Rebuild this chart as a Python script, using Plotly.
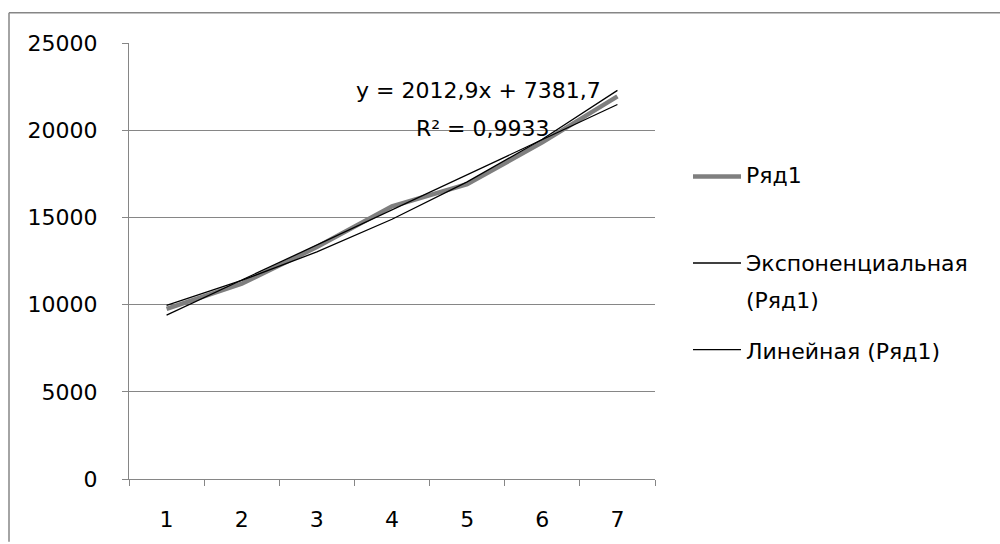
import numpy as np
import plotly.graph_objects as go

# Series data
categories = ["1", "2", "3", "4", "5", "6", "7"]
series_values = [9750, 11200, 13300, 15640, 16900, 19300, 21940]
series_name = "Ряд1"

# Linear trend coefficients shown in the equation label
lin_slope = 2012.9
lin_intercept = 7381.7
r_squared_text = "0,9933"

y_ticks = [0, 5000, 10000, 15000, 20000, 25000]
y_tick_text = ["0", "5000", "10000", "15000", "20000", "25000"]

FONT = "DejaVu Sans"
FS = 22
GRID = "#868686"

# Plot area in pixels
W, H = 1000, 544
L, R, T, B = 129, 345, 43, 63
PW, PH = W - L - R, H - T - B


def px(x):
    return (x - L) / PW


def py(y):
    return (H - B - y) / PH


xs = np.arange(1, len(series_values) + 1)
yv = np.array(series_values, dtype=float)

# Exponential trend (least squares on log values)
b, a = np.polyfit(xs, np.log(yv), 1)
exp_trend = np.exp(a + b * xs)
lin_trend = lin_intercept + lin_slope * xs

fig = go.Figure()
fig.add_trace(go.Scatter(x=categories, y=series_values, mode="lines",
                         line=dict(color="#7f7f7f", width=4.5),
                         name=series_name, showlegend=False))
fig.add_trace(go.Scatter(x=categories, y=exp_trend, mode="lines",
                         line=dict(color="black", width=1.3),
                         showlegend=False))
fig.add_trace(go.Scatter(x=categories, y=lin_trend, mode="lines",
                         line=dict(color="black", width=1.3),
                         showlegend=False))

frame = dict(color=GRID, width=1.5)
shapes = [
    # chart outer frame: top and left edges
    dict(type="line", xref="paper", yref="paper",
         x0=px(9), x1=px(1000), y0=py(12.5), y1=py(12.5), line=frame, layer="above"),
    dict(type="line", xref="paper", yref="paper",
         x0=px(9), x1=px(9), y0=py(12.5), y1=py(544), line=frame, layer="above"),
]

eq_font = dict(family=FONT, size=FS, color="black")
annotations = [
    dict(text=f"y = {str(lin_slope).replace('.', ',')}x + {str(lin_intercept).replace('.', ',')}",
         xref="paper", yref="paper", x=px(478), y=py(91), showarrow=False,
         xanchor="center", yanchor="middle", font=eq_font),
    dict(text=f"R² = {r_squared_text}",
         xref="paper", yref="paper", x=px(483), y=py(129), showarrow=False,
         xanchor="center", yanchor="middle", font=eq_font),
]

# Legend entries drawn at the right of the plot: (text lines, line y, text y's, style)
legend_items = [
    (["Ряд1"], 177, [176], dict(color="#7f7f7f", width=4.5)),
    (["Экспоненциальная", "(Ряд1)"], 264, [265, 302], dict(color="black", width=1.3)),
    (["Линейная (Ряд1)"], 351, [353], dict(color="black", width=1.3)),
]
for lines, line_y, text_ys, ln in legend_items:
    shapes.append(dict(type="line", xref="paper", yref="paper",
                       x0=px(693), x1=px(741), y0=py(line_y), y1=py(line_y),
                       line=ln))
    for label, ty in zip(lines, text_ys):
        annotations.append(dict(text=label, xref="paper", yref="paper",
                                x=px(744), y=py(ty), showarrow=False,
                                xanchor="left", yanchor="middle", align="left",
                                font=dict(family=FONT, size=FS, color="black")))

fig.update_layout(
    width=W, height=H,
    margin=dict(l=L, r=R, t=T, b=B),
    paper_bgcolor="white", plot_bgcolor="white",
    showlegend=False,
    shapes=shapes, annotations=annotations,
    font=dict(family=FONT, size=FS, color="black"),
)
fig.update_xaxes(type="category", categoryorder="array", categoryarray=categories,
                 range=[-0.5, len(categories) - 0.5],
                 tickson="boundaries", ticks="outside", ticklen=6, tickcolor=GRID,
                 showline=True, linecolor=GRID, linewidth=1.2, showgrid=False,
                 ticklabelstandoff=20, zeroline=False,
                 tickfont=dict(family=FONT, size=FS, color="black"))
fig.update_yaxes(range=[0, 25000], tickvals=y_ticks, ticktext=y_tick_text,
                 ticks="outside", ticklen=6,
                 tickcolor=GRID, showline=True, linecolor=GRID, linewidth=1.2,
                 showgrid=True, gridcolor=GRID, gridwidth=1.2, zeroline=False,
                 ticklabelstandoff=20,
                 tickfont=dict(family=FONT, size=FS, color="black"))

fig.write_html("out.html")
